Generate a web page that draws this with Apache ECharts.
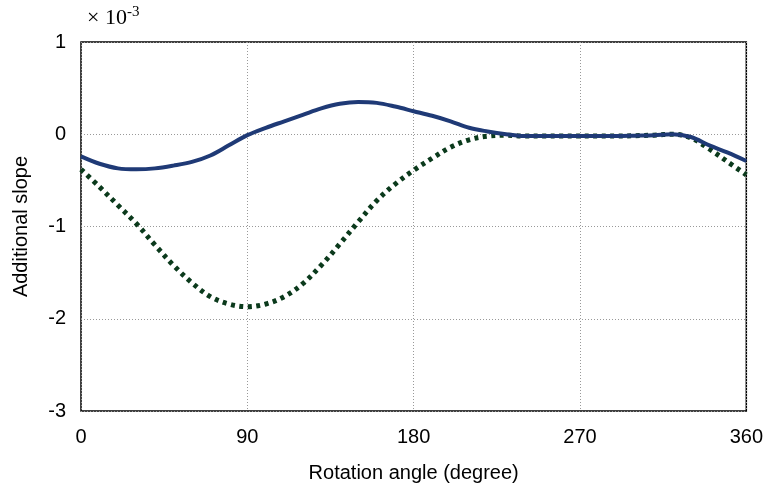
<!DOCTYPE html>
<html><head><meta charset="utf-8">
<script src="https://cdn.jsdelivr.net/npm/echarts@6/dist/echarts.min.js"></script>
<style>html,body{margin:0;padding:0;background:#fff}#c{width:766px;height:490px}</style>
</head><body><div id="c"></div>
<script>
const angles = [0,10,20,30,40,50,60,70,80,90,100,110,120,130,140,150,160,170,180,190,200,210,220,230,240,250,260,270,280,290,300,310,320,330,340,350,360];
const solidVals = [-0.24,-0.32,-0.37,-0.38,-0.37,-0.34,-0.30,-0.23,-0.12,-0.01,0.07,0.14,0.21,0.28,0.33,0.35,0.34,0.30,0.25,0.20,0.14,0.07,0.03,0.00,-0.02,-0.02,-0.02,-0.02,-0.02,-0.02,-0.015,-0.01,0.00,-0.03,-0.12,-0.20,-0.29];
const dottedVals = [-0.38,-0.57,-0.77,-0.97,-1.20,-1.42,-1.61,-1.76,-1.84,-1.87,-1.84,-1.76,-1.62,-1.42,-1.19,-0.95,-0.72,-0.54,-0.39,-0.26,-0.14,-0.06,-0.02,-0.01,-0.02,-0.02,-0.02,-0.02,-0.02,-0.02,-0.015,-0.01,0.00,-0.04,-0.16,-0.30,-0.44];
const xTicks = [0,90,180,270,360];
const yTicks = [-3,-2,-1,0,1];

const chart = echarts.init(document.getElementById('c'));
const font = 'Liberation Sans, Arial, sans-serif';
const serif = 'Liberation Serif, Times New Roman, serif';
chart.setOption({
  animation:false,
  grid:{left:81,right:19,top:42,bottom:79,show:true,borderColor:'#000',borderWidth:1.5,backgroundColor:'transparent'},
  xAxis:{type:'value',min:0,max:360,interval:90,
    name:'Rotation angle (degree)',nameLocation:'middle',nameGap:52,
    nameTextStyle:{fontFamily:font,fontSize:20,color:'#000'},
    axisLine:{show:false},axisTick:{show:false},
    axisLabel:{fontFamily:font,fontSize:20,color:'#000',margin:16},
    splitLine:{show:true,lineStyle:{color:'#999',type:[1,2],width:1}}},
  yAxis:{type:'value',min:-3,max:1,interval:1,
    name:'Additional slope',nameLocation:'middle',nameGap:50,
    nameTextStyle:{fontFamily:font,fontSize:20,color:'#000'},
    axisLine:{show:false},axisTick:{show:false},
    axisLabel:{fontFamily:font,fontSize:20,color:'#000',margin:15},
    splitLine:{show:true,lineStyle:{color:'#999',type:[1,2],width:1}}},
  graphic:[{type:'text',left:87,top:5,style:{rich:{a:{fontFamily:serif,fontSize:22,fill:'#000'},b:{fontFamily:serif,fontSize:15,fill:'#000',verticalAlign:'top',padding:[0,0,12,0]}},text:'{a|× 10}{b|-3}'}}],
  series:[
    {type:'line',data:angles.map((a,i)=>[a,dottedVals[i]]),smooth:0.35,showSymbol:false,
      lineStyle:{color:'#0b3a1c',width:5,type:[4,4.5],cap:'butt'},z:2},
    {type:'line',data:angles.map((a,i)=>[a,solidVals[i]]),smooth:0.35,showSymbol:false,
      lineStyle:{color:'#1f3a76',width:4},z:3}
  ]
});
</script></body></html>
